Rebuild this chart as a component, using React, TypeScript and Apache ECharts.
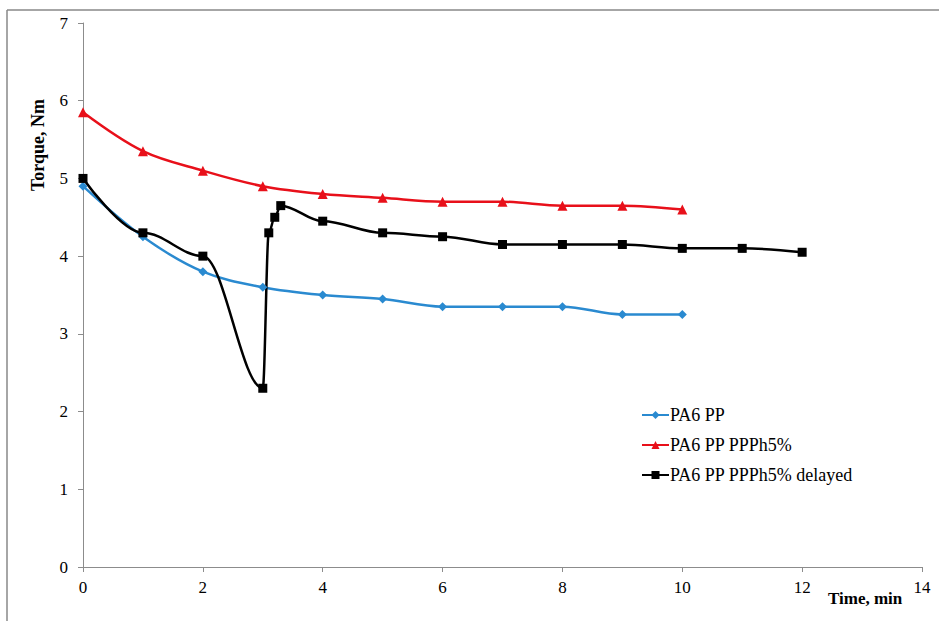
import React, { useEffect, useRef } from "react";
import * as echarts from "echarts";

const timeA = [0, 1, 2, 3, 4, 5, 6, 7, 8, 9, 10];
const pa6pp = [4.9, 4.25, 3.8, 3.6, 3.5, 3.45, 3.35, 3.35, 3.35, 3.25, 3.25];
const pa6ppPPPh = [5.85, 5.35, 5.1, 4.9, 4.8, 4.75, 4.7, 4.7, 4.65, 4.65, 4.6];
const timeDelayed = [0, 1, 2, 3, 3.1, 3.2, 3.3, 4, 5, 6, 7, 8, 9, 10, 11, 12];
const pa6ppPPPhDelayed = [5.0, 4.3, 4.0, 2.3, 4.3, 4.5, 4.65, 4.45, 4.3, 4.25, 4.15, 4.15, 4.15, 4.1, 4.1, 4.05];
const seriesNames = ["PA6 PP", "PA6 PP PPPh5%", "PA6 PP PPPh5% delayed"];

const FONT = "Liberation Serif";

export default function App() {
  const ref = useRef<HTMLDivElement>(null);
  useEffect(() => {
    if (!ref.current) return;
    const chart = echarts.init(ref.current, undefined, { renderer: "svg" });
    const axisColor = "#8c8c8c";
    const labelStyle = { color: "#000", fontSize: 17, fontFamily: FONT };
    chart.setOption({
      animation: false,
      backgroundColor: "#ffffff",
      textStyle: { fontFamily: FONT, fontSize: 17 },
      grid: { left: 83, top: 23, width: 839, height: 544 },
      xAxis: {
        type: "value",
        min: 0,
        max: 14,
        interval: 2,
        splitLine: { show: false },
        axisLine: { lineStyle: { color: axisColor, width: 1 } },
        axisTick: { show: true, length: 5, lineStyle: { color: axisColor } },
        axisLabel: { ...labelStyle, margin: 12 },
      },
      yAxis: {
        type: "value",
        min: 0,
        max: 7,
        interval: 1,
        splitLine: { show: false },
        axisLine: { show: true, lineStyle: { color: axisColor, width: 1 } },
        axisTick: { show: true, length: 5, lineStyle: { color: axisColor } },
        axisLabel: { ...labelStyle, margin: 15 },
      },
      legend: {
        orient: "vertical",
        left: 636,
        top: 401,
        itemGap: 12,
        itemWidth: 27,
        itemHeight: 10,
        textStyle: { fontSize: 18, fontFamily: FONT, color: "#000", padding: [0, 0, 0, -4] },
        data: seriesNames,
      },
      graphic: [
        { type: "line", shape: { x1: 7, y1: 10, x2: 939, y2: 10 }, style: { stroke: "#888", lineWidth: 1.5 } },
        { type: "line", shape: { x1: 7, y1: 10, x2: 7, y2: 621 }, style: { stroke: "#888", lineWidth: 1.5 } },
        {
          type: "text",
          left: 828,
          top: 590,
          style: { text: "Time, min", fontSize: 17, fontWeight: "bold", fontFamily: FONT, fill: "#000" },
        },
        {
          type: "text",
          x: 38,
          y: 145,
          rotation: Math.PI / 2,
          style: {
            text: "Torque, Nm",
            fontSize: 18,
            fontWeight: "bold",
            fontFamily: FONT,
            fill: "#000",
            align: "center",
            verticalAlign: "middle",
          },
        },
      ],
      series: [
        {
          name: seriesNames[0],
          type: "line",
          smooth: 0.35,
          data: timeA.map((t, i) => [t, pa6pp[i]]),
          symbol: "diamond",
          symbolSize: 9,
          lineStyle: { color: "#2a8ad0", width: 2.5 },
          itemStyle: { color: "#2a8ad0" },
        },
        {
          name: seriesNames[1],
          type: "line",
          smooth: 0.35,
          data: timeA.map((t, i) => [t, pa6ppPPPh[i]]),
          symbol: "triangle",
          symbolSize: 10,
          lineStyle: { color: "#e8101a", width: 2.5 },
          itemStyle: { color: "#e8101a" },
        },
        {
          name: seriesNames[2],
          type: "line",
          smooth: 0.35,
          smoothMonotone: "x",
          data: timeDelayed.map((t, i) => [t, pa6ppPPPhDelayed[i]]),
          symbol: "rect",
          symbolSize: 9,
          lineStyle: { color: "#000000", width: 2.5 },
          itemStyle: { color: "#000000" },
        },
      ],
    });
    return () => chart.dispose();
  }, []);
  return (
    <div
      ref={ref}
      style={{ position: "fixed", left: 0, top: 0, width: 939, height: 621, background: "#fff" }}
    />
  );
}
